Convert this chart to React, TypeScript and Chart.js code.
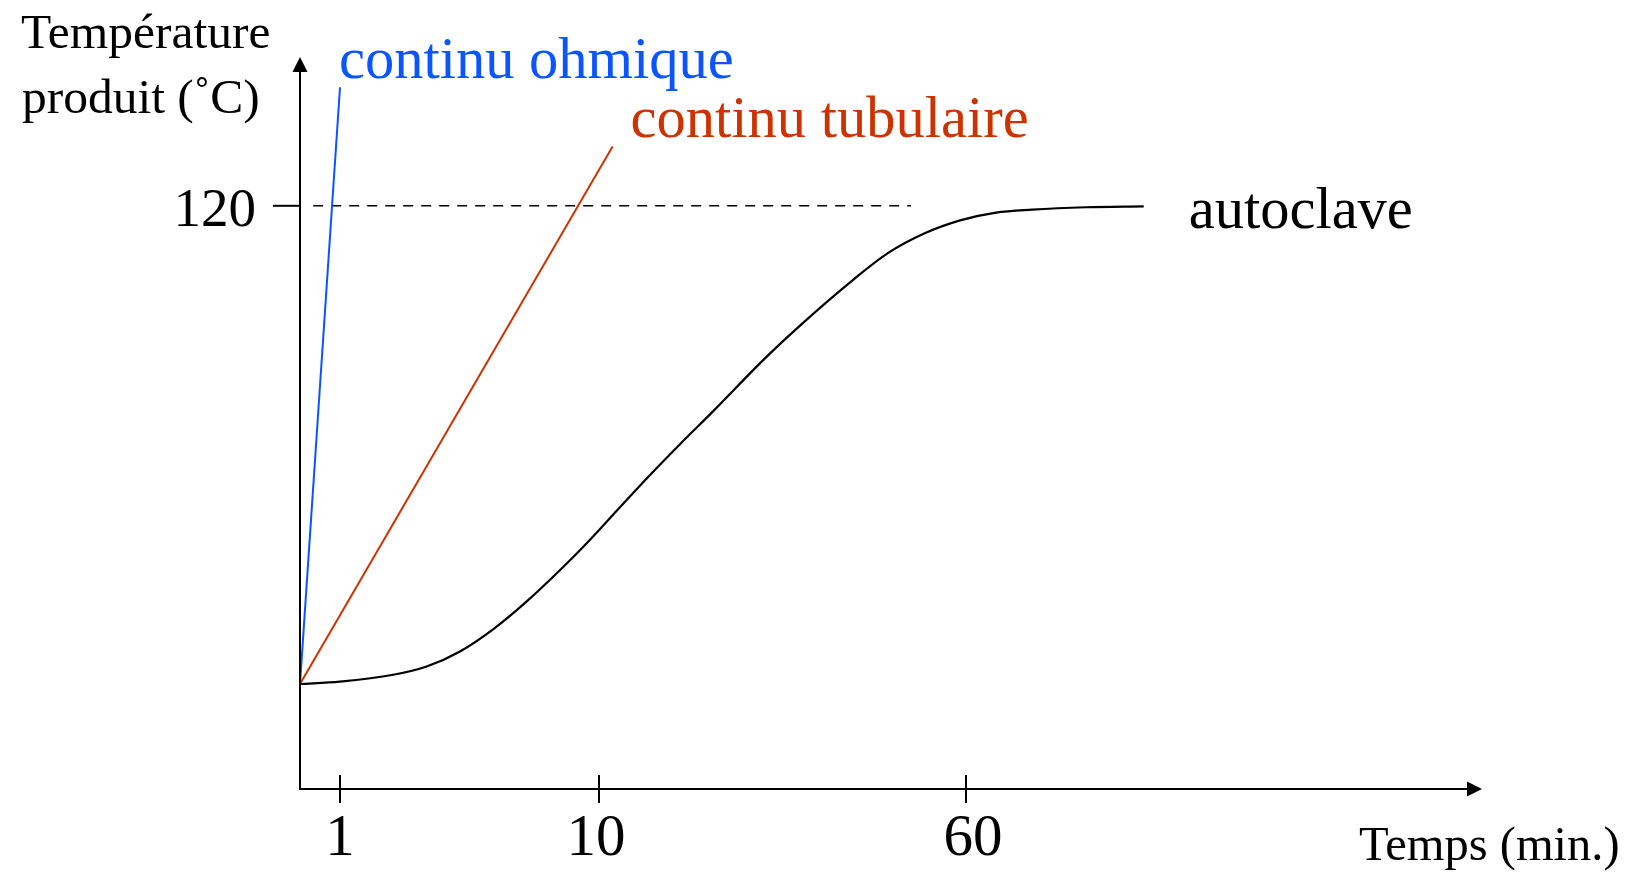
import React, { useEffect, useRef } from "react";
import { Chart, registerables, LinearScale } from "chart.js";

// ---------- data ----------
const OHMIC_TIME = [0, 1];
const OHMIC_TEMP = [21.6, 144.4];

const TUBULAR_TIME = [0, 11.85];
const TUBULAR_TEMP = [21.6, 132.2];

const AUTOCLAVE_TIME = [0, 1.0, 2.85, 4.01, 5.17, 6.33, 7.49, 8.64, 9.69, 11.95, 16.5, 21.0, 25.6, 32.4, 37.5, 44.5, 49.4, 54.3, 59.2, 64.1, 69.0, 76.3, 84.2];
const AUTOCLAVE_TEMP = [21.6, 22.1, 23.5, 25.2, 28.3, 32.9, 38.6, 45.0, 51.3, 56.5, 63.9, 70.9, 77.8, 88.3, 95.5, 104.6, 110.3, 114.3, 117.0, 118.6, 119.2, 119.7, 119.9];

const REF_TIME = [0.33, 52.5];
const REF_TEMP = [120, 120];

const X_TICKS = [1, 10, 60];
const X_TICK_LABELS = ["1", "10", "60"];
const Y_TICKS = [120];
const Y_TICK_LABELS = ["120"];

const SERIES_LABELS = ["continu ohmique", "continu tubulaire", "autoclave"];
const Y_TITLE = ["Température", "produit (˚C)"];
const X_TITLE = "Temps (min.)";

// schematic (non-linear) time axis: knots in minutes and their relative positions
const KNOT_MIN = [0, 1, 10, 60, 130];
const KNOT_POS = [0, 40, 299, 666, 1180];

function warp(v: number): number {
  const last = KNOT_POS[KNOT_POS.length - 1];
  for (let i = 1; i < KNOT_MIN.length; i++) {
    if (v <= KNOT_MIN[i] || i === KNOT_MIN.length - 1) {
      const t = (v - KNOT_MIN[i - 1]) / (KNOT_MIN[i] - KNOT_MIN[i - 1]);
      return (KNOT_POS[i - 1] + t * (KNOT_POS[i] - KNOT_POS[i - 1])) / last;
    }
  }
  return 1;
}
function unwarp(d: number): number {
  const last = KNOT_POS[KNOT_POS.length - 1];
  const p = d * last;
  for (let i = 1; i < KNOT_POS.length; i++) {
    if (p <= KNOT_POS[i] || i === KNOT_POS.length - 1) {
      const t = (p - KNOT_POS[i - 1]) / (KNOT_POS[i] - KNOT_POS[i - 1]);
      return KNOT_MIN[i - 1] + t * (KNOT_MIN[i] - KNOT_MIN[i - 1]);
    }
  }
  return KNOT_MIN[KNOT_MIN.length - 1];
}

class PiecewiseScale extends LinearScale {
  static id = "piecewise";
  static defaults = (LinearScale as any).defaults;
  getPixelForValue(value: number) {
    return this.getPixelForDecimal(warp(value));
  }
  getValueForPixel(pixel: number) {
    return unwarp(this.getDecimalForPixel(pixel));
  }
}

Chart.register(...registerables, PiecewiseScale as any);

const BLUE = "#0a55ff";
const RED = "#cc3300";
const FONT = "'Liberation Serif', 'Times New Roman', serif";
const X_TICK_SHIFT = [0, -3, 7];

const zip = (xs: number[], ys: number[]) => xs.map((x, i) => ({ x, y: ys[i] }));

const overlay = {
  id: "overlay",
  afterDraw(chart: any) {
    const ctx = chart.ctx as CanvasRenderingContext2D;
    const xs = chart.scales.x;
    const ys = chart.scales.y;
    const area = chart.chartArea;
    const x0 = xs.getPixelForValue(0);
    const y0 = ys.getPixelForValue(0);
    ctx.save();
    ctx.strokeStyle = "#000";
    ctx.fillStyle = "#000";
    ctx.lineWidth = 2;
    ctx.lineCap = "butt";

    // y axis with arrow
    const yTip = area.top - 3;
    ctx.beginPath();
    ctx.moveTo(x0, y0 + 1);
    ctx.lineTo(x0, yTip + 10);
    ctx.stroke();
    ctx.beginPath();
    ctx.moveTo(x0, yTip);
    ctx.lineTo(x0 - 7.5, yTip + 15);
    ctx.lineTo(x0 + 7.5, yTip + 15);
    ctx.closePath();
    ctx.fill();

    // x axis with arrow
    const xTip = area.right + 2;
    ctx.beginPath();
    ctx.moveTo(x0 - 1, y0);
    ctx.lineTo(xTip - 10, y0);
    ctx.stroke();
    ctx.beginPath();
    ctx.moveTo(xTip, y0);
    ctx.lineTo(xTip - 15, y0 - 7.5);
    ctx.lineTo(xTip - 15, y0 + 7.5);
    ctx.closePath();
    ctx.fill();

    // x ticks
    ctx.font = `59px ${FONT}`;
    ctx.textAlign = "center";
    ctx.textBaseline = "alphabetic";
    X_TICKS.forEach((v, i) => {
      const px = xs.getPixelForValue(v);
      ctx.beginPath();
      ctx.moveTo(px, y0 - 14);
      ctx.lineTo(px, y0 + 14);
      ctx.stroke();
      ctx.fillText(X_TICK_LABELS[i], px + X_TICK_SHIFT[i], y0 + 66);
    });

    // y ticks
    ctx.font = `55px ${FONT}`;
    ctx.textAlign = "right";
    Y_TICKS.forEach((v, i) => {
      const py = ys.getPixelForValue(v);
      ctx.beginPath();
      ctx.moveTo(x0 - 27, py);
      ctx.lineTo(x0, py);
      ctx.stroke();
      ctx.fillText(Y_TICK_LABELS[i], x0 - 44, py + 20);
    });

    // axis titles
    ctx.font = `49.5px ${FONT}`;
    ctx.textAlign = "left";
    ctx.fillText(Y_TITLE[0], 21, 48);
    ctx.fillText(Y_TITLE[1], 22, 113);
    ctx.font = `48.5px ${FONT}`;
    ctx.fillText(X_TITLE, 1359, 860);

    // series labels anchored to the last point of each series
    const endPx = (idx: number) => {
      const meta = chart.getDatasetMeta(idx);
      const pt = meta.data[meta.data.length - 1];
      return { x: pt.x, y: pt.y };
    };
    ctx.font = `58.5px ${FONT}`;
    const e0 = endPx(0);
    ctx.fillStyle = BLUE;
    ctx.fillText(SERIES_LABELS[0], e0.x - 1, e0.y - 9);
    const e1 = endPx(1);
    ctx.fillStyle = RED;
    ctx.fillText(SERIES_LABELS[1], e1.x + 18, e1.y - 10);
    const e2 = endPx(2);
    ctx.fillStyle = "#000";
    ctx.fillText(SERIES_LABELS[2], e2.x + 45, e2.y + 22);
    ctx.restore();
  },
};

export default function App() {
  const ref = useRef<HTMLCanvasElement | null>(null);
  useEffect(() => {
    document.body.style.margin = "0";
    const canvas = ref.current;
    if (!canvas) return;
    const chart = new Chart(canvas, {
      type: "line",
      data: {
        datasets: [
          {
            label: SERIES_LABELS[0],
            data: zip(OHMIC_TIME, OHMIC_TEMP),
            borderColor: BLUE,
            borderWidth: 2,
            pointRadius: 0,
            tension: 0,
          },
          {
            label: SERIES_LABELS[1],
            data: zip(TUBULAR_TIME, TUBULAR_TEMP),
            borderColor: RED,
            borderWidth: 2,
            pointRadius: 0,
            tension: 0,
          },
          {
            label: SERIES_LABELS[2],
            data: zip(AUTOCLAVE_TIME, AUTOCLAVE_TEMP),
            borderColor: "#000",
            borderWidth: 2.2,
            pointRadius: 0,
            cubicInterpolationMode: "monotone",
          },
          {
            label: "120",
            data: zip(REF_TIME, REF_TEMP),
            borderColor: "#000",
            borderWidth: 1.6,
            borderDash: [10, 8],
            pointRadius: 0,
            tension: 0,
          },
        ],
      },
      options: {
        animation: false,
        responsive: false,
        devicePixelRatio: 1,
        parsing: false as any,
        layout: { padding: { left: 300, right: 148, top: 60, bottom: 83 } },
        plugins: { legend: { display: false }, tooltip: { enabled: false } },
        scales: {
          x: { type: "piecewise" as any, min: 0, max: 130, display: false },
          y: { type: "linear", min: 0, max: 150, display: false },
        },
      },
      plugins: [overlay],
    });
    return () => chart.destroy();
  }, []);
  return (
    <div style={{ position: "fixed", left: 0, top: 0, width: 1628, height: 872, background: "#fff" }}>
      <canvas ref={ref} width={1628} height={872} style={{ display: "block" }} />
    </div>
  );
}
